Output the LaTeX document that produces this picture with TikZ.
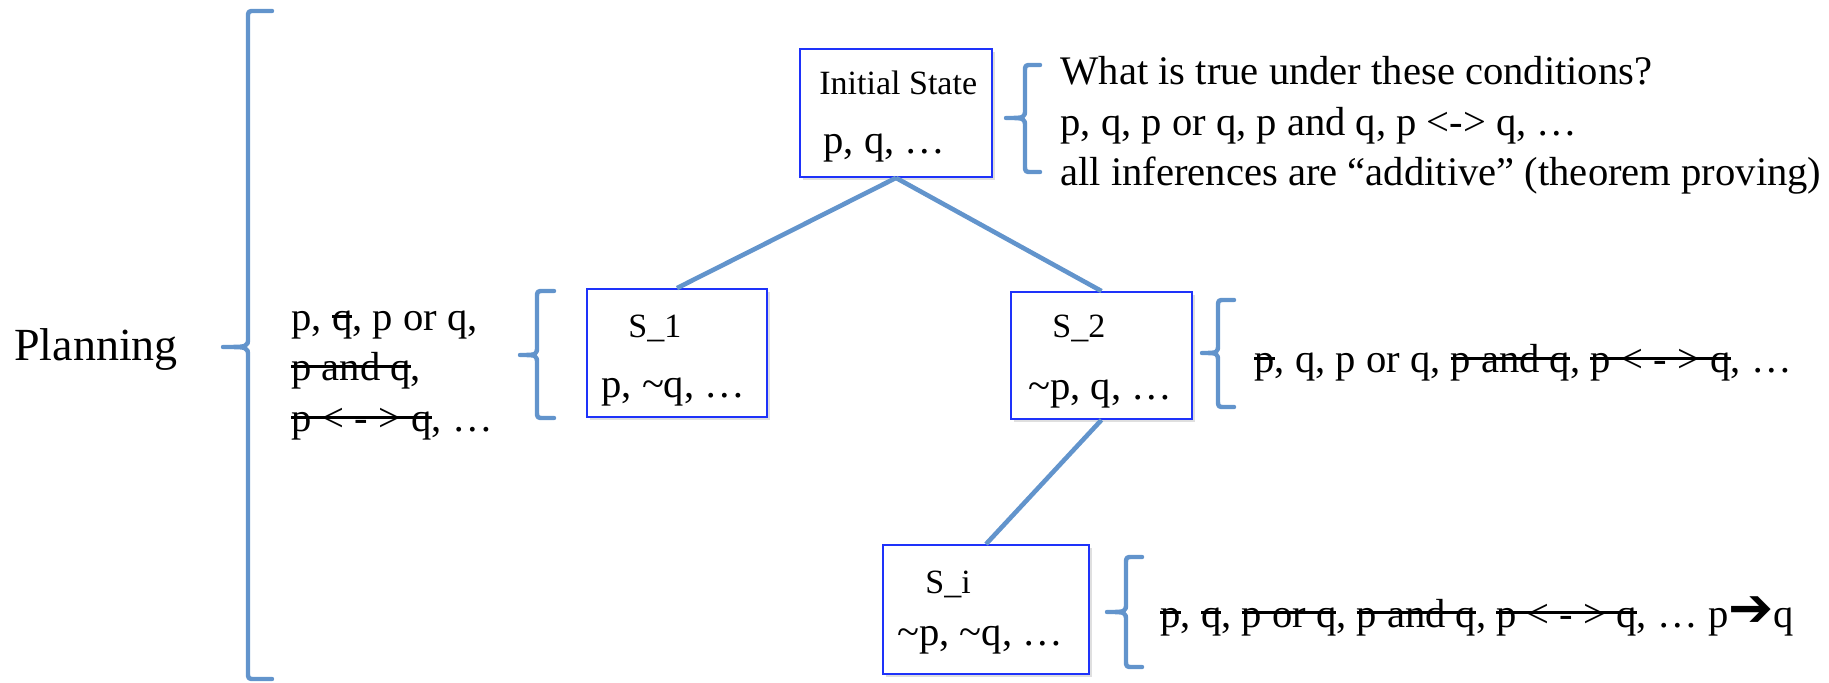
\documentclass[tikz,border=0pt]{standalone}
\usepackage{fontspec}
\setmainfont{Liberation Serif}
\newfontfamily\djv{DejaVu Sans}
\usetikzlibrary{shadows}
\definecolor{bracecol}{RGB}{98,148,204}
\definecolor{boxcol}{RGB}{30,50,250}
\newcommand\strk[1]{\setbox0\hbox{#1}\rlap{\rule[0.33em]{\wd0}{0.07em}}\box0}
\newcommand\mainsz{\fontsize{20.3pt}{25pt}\selectfont}
\newcommand\labsz{\fontsize{17pt}{20pt}\selectfont}
\newcommand\tild{\textasciitilde}
% #1 tip x, #2 line x, #3 end x, #4 top y, #5 tip y, #6 bottom y
\newcommand\ppbrace[6]{%
  \draw[bracestyle] (#3,#4) -- ({#2+7},#4) .. controls (#2,#4) .. (#2,{#4+7})
    -- (#2,{#5-9}) .. controls (#2,#5) .. (#1,#5)
    .. controls (#2,#5) .. (#2,{#5+9})
    -- (#2,{#6-7}) .. controls (#2,#6) .. ({#2+7},#6) -- (#3,#6);}
\begin{document}
\begin{tikzpicture}[x=0.5pt,y=-0.5pt,
  statebox/.style={draw=boxcol, line width=0.9pt, fill=white, rectangle, inner sep=0pt,
    drop shadow={opacity=0.25, shadow xshift=1.5pt, shadow yshift=-1.5pt}},
  conn/.style={draw=bracecol, line width=2.3pt},
  bracestyle/.style={draw=bracecol, line width=2.2pt, line cap=round, line join=round},
  txt/.style={inner sep=0pt, anchor=base west, font=\mainsz},
  lab/.style={inner sep=0pt, anchor=base west, font=\labsz}]
\useasboundingbox (0,0) rectangle (1829,683);

% boxes
\node[statebox, minimum width=96pt, minimum height=64pt] (init) at (896,113) {};
\node[statebox, minimum width=90pt, minimum height=64pt] (s1) at (677,353) {};
\node[statebox, minimum width=90.5pt, minimum height=63.5pt] (s2) at (1101.5,355.5) {};
\node[statebox, minimum width=103pt, minimum height=64.5pt] (si) at (986,609.5) {};

% connectors
\draw[conn] (init.south) -- (s1.north);
\draw[conn] (init.south) -- (s2.north);
\draw[conn] (s2.south) -- (si.north);

% box texts
\node[lab] (initlab) at (819,95) {Initial State};
\node[txt] (inittxt) at (823,154) {p, q, …};
\node[lab] (s1lab) at (628,338) {S\_1};
\node[txt] (s1txt) at (601,398) {p, \tild q, …};
\node[lab] (s2lab) at (1052,338) {S\_2};
\node[txt] (s2txt) at (1028,400) {\tild p, q, …};
\node[lab] (silab) at (925,593) {S\_i};
\node[txt] (sitxt) at (897,645) {\tild p, \tild q, …};

% braces
\ppbrace{223}{248}{272}{11}{347}{679}
\ppbrace{520}{537}{554}{291}{355}{418}
\ppbrace{1006}{1025}{1040}{65}{118}{172}
\ppbrace{1202}{1218}{1234}{300}{353}{407}
\ppbrace{1107}{1126}{1142}{557}{612}{667}

% Planning
\node[inner sep=0pt, anchor=base west, font=\fontsize{23pt}{27pt}\selectfont] (plan) at (14,361) {Planning};

% left text
\node[txt] (l1) at (291,331) {p, \strk{q}, p or q,};
\node[txt] (l2) at (291,381) {\strk{p and q},};
\node[txt] (l3) at (291,432) {\strk{p < - > q}, …};

% initial state text
\node[txt] (r1) at (1060,85) {What is true under these conditions?};
\node[txt] (r2) at (1060,136) {p, q, p or q, p and q, p <-> q, …};
\node[txt] (r3) at (1060,186) {all inferences are “additive” (theorem proving)};

% S_2 text
\node[txt] (t2) at (1254,373) {\strk{p}, q, p or q, \strk{p and q}, \strk{p < - > q}, …};

% S_i text
\node[txt] (ti) at (1160,627) {\strk{p}, \strk{q}, \strk{p or q}, \strk{p and q}, \strk{p < - > q}, … p\raisebox{0.02em}{\djv\bfseries\fontsize{27pt}{29pt}\selectfont ➔}q};
\end{tikzpicture}
\end{document}
